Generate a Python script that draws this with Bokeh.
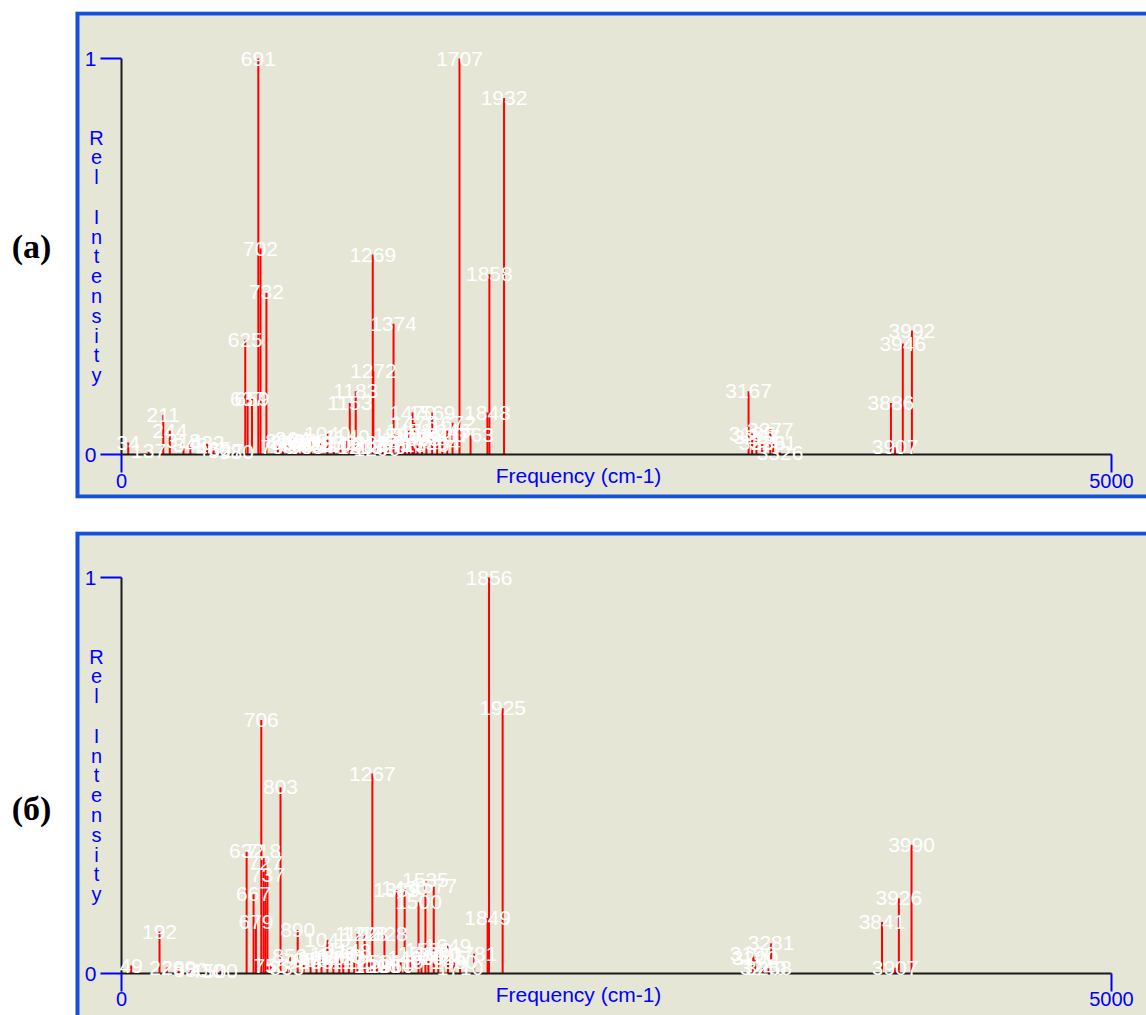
from bokeh.plotting import figure
from bokeh.models import Range1d, FixedTicker, LabelSet, Label, ColumnDataSource
from bokeh.layouts import column
from bokeh.core.properties import value
from bokeh.embed import file_html
from bokeh.resources import INLINE

# ---------------- data ----------------
freq_a = [34, 137, 211, 244, 313, 348, 432, 465, 527, 580, 625, 637, 659, 691, 702, 732,
          790, 815, 838, 864, 890, 913, 935, 958, 985, 1005, 1040, 1072, 1106, 1140, 1153,
          1183, 1207, 1232, 1269, 1272, 1290, 1320, 1345, 1374, 1390, 1410, 1432, 1452,
          1470, 1478, 1495, 1518, 1540, 1569, 1594, 1620, 1645, 1672, 1707, 1763, 1848,
          1858, 1932, 3167, 3185, 3207, 3236, 3277, 3291, 3326, 3886, 3907, 3946, 3992]
int_a = [0.030, 0.010, 0.100, 0.060, 0.035, 0.025, 0.030, 0.015, 0.008, 0.006, 0.290, 0.140,
         0.140, 1.000, 0.520, 0.410, 0.020, 0.035, 0.030, 0.040, 0.025, 0.030, 0.020, 0.035,
         0.025, 0.030, 0.053, 0.030, 0.025, 0.045, 0.130, 0.160, 0.020, 0.030, 0.505, 0.210,
         0.015, 0.020, 0.025, 0.330, 0.050, 0.030, 0.040, 0.060, 0.106, 0.080, 0.040, 0.048,
         0.025, 0.106, 0.030, 0.048, 0.060, 0.080, 1.000, 0.048, 0.106, 0.455, 0.900, 0.160,
         0.053, 0.043, 0.028, 0.063, 0.028, 0.005, 0.130, 0.018, 0.280, 0.313]

freq_b = [49, 192, 229, 289, 350, 430, 500, 632, 667, 679, 706, 718, 727, 737, 755, 803,
          835, 850, 890, 920, 955, 985, 1010, 1040, 1070, 1100, 1120, 1148, 1175, 1192, 1228,
          1250, 1267, 1290, 1328, 1360, 1389, 1410, 1430, 1460, 1500, 1515, 1535, 1550, 1577,
          1600, 1625, 1649, 1680, 1710, 1781, 1849, 1856, 1925, 3190, 3200, 3240, 3268, 3281,
          3841, 3907, 3926, 3990]
int_b = [0.020, 0.106, 0.015, 0.015, 0.008, 0.006, 0.006, 0.310, 0.200, 0.130, 0.640, 0.310,
         0.280, 0.250, 0.020, 0.470, 0.015, 0.045, 0.110, 0.030, 0.035, 0.030, 0.040, 0.085,
         0.050, 0.045, 0.040, 0.058, 0.030, 0.100, 0.100, 0.030, 0.505, 0.020, 0.100, 0.020,
         0.210, 0.030, 0.215, 0.040, 0.180, 0.050, 0.235, 0.060, 0.220, 0.050, 0.040, 0.070,
         0.030, 0.015, 0.050, 0.140, 1.000, 0.670, 0.050, 0.040, 0.013, 0.013, 0.076, 0.130,
         0.015, 0.190, 0.325]

x_ticks = [0, 5000]
y_ticks = [0, 1]
panel_tags = ["(а)", "(б)"]
x_title = "Frequency (cm-1)"
y_title = "Rel Intensity"

# ---------------- styling / layout ----------------
BEIGE = "#E6E6D7"
FRAME_BLUE = "#1450DC"
TXT_BLUE = "#0000FF"
AXIS_BLACK = "#1a1a1a"
BAR_RED = "#FF0000"

PAGE_W = 1146
X0_PX, X1_PX = 121, 1111   # page px of x=0 and x=5000
PX_PER_X = (X1_PX - X0_PX) / (x_ticks[1] - x_ticks[0])
PX_PER_Y = 396.0
FRAME_LEFT_PX = 75


def xd(px):
    return (px - X0_PX) / PX_PER_X


def make_panel(freqs, ints, tag, canvas_top, canvas_bottom, frame_top, frame_bottom,
               y0_px, tag_py, border_bottom, tick_standoff):
    def yd(py):
        return (y0_px - py) / PX_PER_Y

    p = figure(width=PAGE_W, height=canvas_bottom - canvas_top,
               x_range=Range1d(xd(0), xd(PAGE_W)),
               y_range=Range1d(yd(frame_bottom), yd(frame_top)),
               output_backend="svg", toolbar_location=None,
               min_border_left=0, min_border_right=0,
               min_border_top=frame_top - canvas_top,
               min_border_bottom=canvas_bottom - frame_bottom,
               background_fill_color="white", border_fill_color="white",
               outline_line_color=None)
    p.grid.visible = False

    # beige panel face
    p.quad(left=xd(FRAME_LEFT_PX), right=xd(PAGE_W + 20), bottom=yd(frame_bottom + 20),
           top=yd(frame_top - 20), fill_color=BEIGE, line_color=None)

    # blue panel border (left, top and, when visible, bottom)
    bx = [xd(PAGE_W + 10), xd(FRAME_LEFT_PX + 2), xd(FRAME_LEFT_PX + 2)]
    by = [yd(frame_top + 2), yd(frame_top + 2), yd(frame_bottom + 10)]
    if border_bottom:
        bx = bx + [xd(PAGE_W + 10)]
        by[2] = yd(frame_bottom - 2)
        by = by + [yd(frame_bottom - 2)]
    p.line(bx, by, line_color=FRAME_BLUE, line_width=4, line_join="miter")

    src = ColumnDataSource(dict(f=freqs, h=ints, t=[str(v) for v in freqs]))
    p.segment(x0="f", y0=0, x1="f", y1="h", source=src, line_color=BAR_RED, line_width=2)

    # axes placed inside the panel
    yax = p.yaxis[0]
    yax.fixed_location = x_ticks[0]
    yax.bounds = (y_ticks[0], y_ticks[-1])
    yax.ticker = FixedTicker(ticks=y_ticks, minor_ticks=[])
    yax.axis_line_color = AXIS_BLACK
    yax.axis_line_width = 2
    yax.major_tick_line_color = TXT_BLUE
    yax.major_tick_line_width = 2
    yax.major_tick_out = 21
    yax.major_tick_in = 0
    yax.minor_tick_out = 0
    yax.minor_tick_in = 0
    yax.major_label_text_color = TXT_BLUE
    yax.major_label_text_font = "Liberation Sans"
    yax.major_label_text_font_size = "21px"
    yax.major_label_standoff = 4

    xax = p.xaxis[0]
    xax.fixed_location = y_ticks[0]
    xax.bounds = (x_ticks[0], x_ticks[-1])
    xax.ticker = FixedTicker(ticks=x_ticks, minor_ticks=[])
    xax.axis_line_color = AXIS_BLACK
    xax.axis_line_width = 2
    xax.major_tick_line_color = TXT_BLUE
    xax.major_tick_line_width = 2
    xax.major_tick_out = 18
    xax.major_tick_in = 0
    xax.minor_tick_out = 0
    xax.minor_tick_in = 0
    xax.major_label_text_color = TXT_BLUE
    xax.major_label_text_font = "Liberation Sans"
    xax.major_label_text_font_size = "20px"
    xax.major_label_standoff = tick_standoff

    p.add_layout(LabelSet(x="f", y="h", text="t", source=src,
                          text_color="white", text_font=value("Liberation Sans"),
                          text_font_size="21px", text_align="center",
                          text_baseline="middle"))

    p.add_layout(Label(x=xd(578), y=yd(y0_px + 21), text=x_title,
                       text_color=TXT_BLUE, text_font="Liberation Sans",
                       text_font_size="21px", text_align="center",
                       text_baseline="middle"))
    p.add_layout(Label(x=xd(96), y=0.5, text="\n".join(list(y_title)),
                       text_color=TXT_BLUE, text_font="Liberation Sans",
                       text_font_size="20px", text_line_height=0.9,
                       text_align="center", text_baseline="middle"))
    p.add_layout(Label(x=xd(31), y=yd(tag_py), text=tag,
                       text_color="black", text_font="Liberation Serif",
                       text_font_style="bold", text_font_size="34px",
                       text_align="center", text_baseline="middle"))
    return p


pa = make_panel(freq_a, int_a, panel_tags[0], canvas_top=0, canvas_bottom=516,
                frame_top=11, frame_bottom=498, y0_px=454, tag_py=246,
                border_bottom=True, tick_standoff=1)
pb = make_panel(freq_b, int_b, panel_tags[1], canvas_top=516, canvas_bottom=1015,
                frame_top=531, frame_bottom=1015, y0_px=973, tag_py=808,
                border_bottom=False, tick_standoff=0)

layout = column(pa, pb, spacing=0)
open("out.html", "w").write(file_html(layout, INLINE))
